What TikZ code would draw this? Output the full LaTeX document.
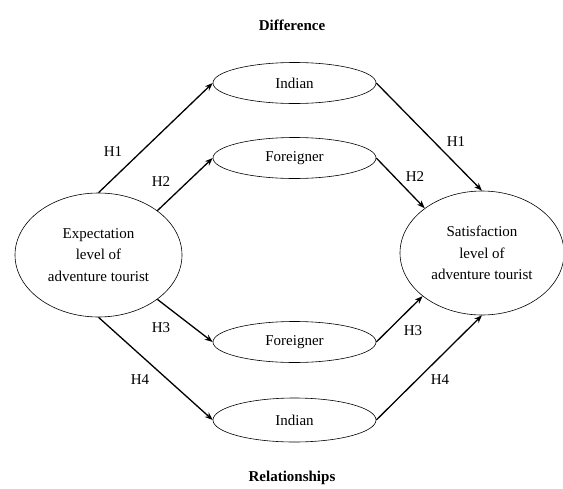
\documentclass[tikz,border=0pt]{standalone}
\usepackage{fontspec}
\setmainfont{Liberation Serif}
\usetikzlibrary{shapes.geometric,arrows.meta}
\begin{document}
\begin{tikzpicture}[x=1pt,y=-1pt,
  bigell/.style={ellipse,draw,line width=0.6pt,inner sep=0pt,minimum width=167pt,minimum height=124pt,align=center,font=\fontsize{15}{21.5}\selectfont},
  smallell/.style={ellipse,draw,line width=0.6pt,inner sep=0pt,minimum width=163pt,minimum height=41pt,font=\fontsize{15}{18}\selectfont},
  hlab/.style={font=\fontsize{15}{18}\selectfont,inner sep=0pt},
  ttl/.style={font=\fontsize{15}{18}\selectfont\bfseries,inner sep=0pt},
  arr/.style={-{Stealth[length=8pt,width=6pt]},line width=1.3pt}]
\useasboundingbox (0,0) rectangle (563,488);
\node[ttl] (diff) at (292,25) {Difference};
\node[ttl] (rel) at (292,478) {Relationships};
\node[bigell] (L) at (98.5,255) {Expectation\\level of\\adventure tourist};
\node[bigell,minimum width=164pt] (R) at (482,253) {Satisfaction\\level of\\adventure tourist};
\node[smallell] (I1) at (294.5,83) {Indian};
\node[smallell] (F1) at (294.5,158) {Foreigner};
\node[smallell] (F2) at (294.5,342) {Foreigner};
\node[smallell,minimum height=44pt] (I2) at (294.5,420) {Indian};
\draw[arr] (L.north) -- (I1.west);
\draw[arr] (L.37) -- (F1.west);
\draw[arr] (L.-37) -- (F2.west);
\draw[arr] (L.south) -- (I2.west);
\draw[arr] (I1.east) -- (R.north);
\draw[arr] (F1.east) -- (R.142);
\draw[arr] (F2.east) -- (R.216);
\draw[arr] (I2.east) -- (R.south);
\node[hlab] (h1l) at (113,152) {H1};
\node[hlab] (h2l) at (161,182) {H2};
\node[hlab] (h3l) at (161,328) {H3};
\node[hlab] (h4l) at (140,380) {H4};
\node[hlab] (h1r) at (456,142) {H1};
\node[hlab] (h2r) at (415,177) {H2};
\node[hlab] (h3r) at (413,331) {H3};
\node[hlab] (h4r) at (440,380) {H4};
\end{tikzpicture}
\end{document}
